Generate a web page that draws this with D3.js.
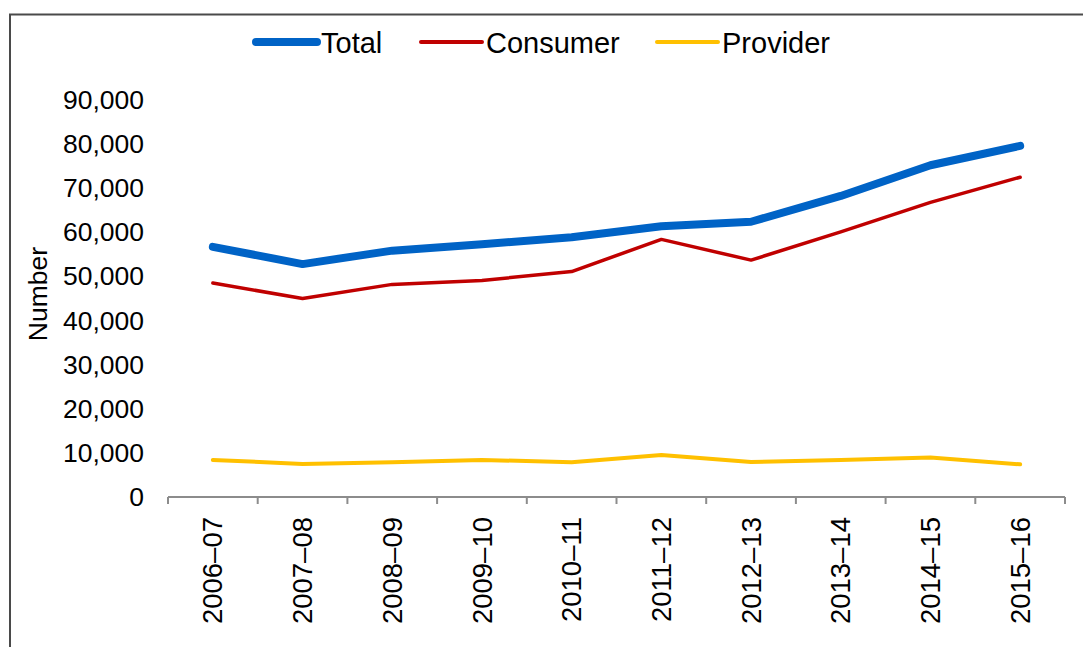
<!DOCTYPE html>
<html><head><meta charset="utf-8">
<script src="https://cdn.jsdelivr.net/npm/d3@7"></script>
<style>body{margin:0;background:#fff}svg{display:block}text{font-family:"Liberation Sans",Arial,sans-serif;fill:#000}</style>
</head><body><svg id="c" width="1083" height="647"></svg>
<script>
const categories = ["2006–07","2007–08","2008–09","2009–10","2010–11","2011–12","2012–13","2013–14","2014–15","2015–16"];
const totalValues = [56700,52800,55850,57300,58900,61400,62400,68250,75200,79600];
const consumerValues = [48500,45000,48200,49100,51100,58400,53700,60100,66800,72500];
const providerValues = [8400,7500,7900,8400,7900,9500,7950,8400,8950,7400];
const yTicks = [0,10000,20000,30000,40000,50000,60000,70000,80000,90000];
const seriesNames = ["Total","Consumer","Provider"];
const seriesColors = ["#0063C6","#C00000","#FFC000"];
const seriesWidths = [8,3.5,4];

const svg = d3.select("#c");
// frame
svg.append("path").attr("d","M10,647 L10,14.5 L1083,14.5").attr("fill","none").attr("stroke","#4a4a4a").attr("stroke-width",2);

const x = d3.scaleBand().domain(categories).range([168,1065]);
const y = d3.scaleLinear().domain([0,90000]).range([497,100]);
const fmt = d3.format(",");

// y labels
const yAxis = svg.append("g").attr("transform","translate(168,0)")
  .call(d3.axisLeft(y).tickValues(yTicks).tickFormat(fmt).tickSize(0).tickPadding(24));
yAxis.select(".domain").remove();
yAxis.selectAll("text").style("font-size","26.5px").attr("font-family",null);

// x axis
const xAxis = svg.append("g").attr("transform","translate(0,497)");
xAxis.append("line").attr("x1",x.range()[0]).attr("x2",x.range()[1]).attr("stroke","#8c8c8c").attr("stroke-width",2);
const edges = categories.map(c=>x(c)).concat([x.range()[1]]);
xAxis.selectAll("line.t").data(edges).enter().append("line").attr("class","t")
  .attr("x1",d=>d).attr("x2",d=>d).attr("y1",0).attr("y2",7).attr("stroke","#8c8c8c").attr("stroke-width",2);
xAxis.selectAll("text").data(categories).enter().append("text")
  .attr("transform",d=>`translate(${x(d)+x.bandwidth()/2},20) rotate(-90)`)
  .attr("text-anchor","end").attr("dy","0.35em").style("font-size","27.5px").text(d=>d);

// y title
svg.append("text").attr("transform","translate(38,294) rotate(-90)").attr("text-anchor","middle")
  .attr("dy","0.35em").style("font-size","26.5px").text("Number");

// lines
const series = [totalValues,consumerValues,providerValues];
const line = d3.line().x((d,i)=>x(categories[i])+x.bandwidth()/2).y(d=>y(d));
[2,1,0].forEach(k=>{
  svg.append("path").datum(series[k]).attr("d",line).attr("fill","none")
    .attr("stroke",seriesColors[k]).attr("stroke-width",seriesWidths[k])
    .attr("stroke-linecap","round").attr("stroke-linejoin","round");
});

// legend
const legX = [256,421,657];
const leg = svg.append("g");
seriesNames.forEach((n,k)=>{
  leg.append("line").attr("x1",legX[k]).attr("x2",legX[k]+61).attr("y1",42).attr("y2",42)
    .attr("stroke",seriesColors[k]).attr("stroke-width",k===0?8:4).attr("stroke-linecap","round");
  leg.append("text").attr("x",legX[k]+65).attr("y",43).attr("dy","0.35em").style("font-size","29px").text(n);
});
</script></body></html>
